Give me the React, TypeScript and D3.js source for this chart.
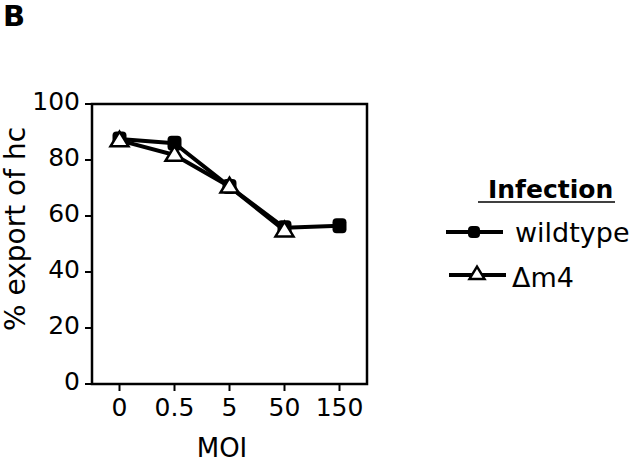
import React from "react";
import * as d3 from "d3";

const categories = ["0", "0.5", "5", "50", "150"];
const wildtype = [87.5, 86, 70.5, 55.8, 56.5];
const dm4 = [87, 81.8, 70.5, 54.8];
const yTicks = [0, 20, 40, 60, 80, 100];

const FONT = "DejaVu Sans";

export default function App() {
  const left = 92, right = 367, top = 104, bottom = 384;
  const x = d3.scalePoint<string>().domain(categories).range([left, right]).padding(0.5);
  const y = d3.scaleLinear().domain([0, 100]).range([bottom, top]);
  const line = d3
    .line<number>()
    .x((_, i) => x(categories[i]) as number);
  line.y((d) => y(d));

  const tri = (cx: number, cy: number, s = 17) => {
    const h = s * 0.82;
    return `M${cx},${cy - h * 0.6} L${cx + s / 2},${cy + h * 0.4} L${cx - s / 2},${cy + h * 0.4} Z`;
  };

  return (
    <svg width={640} height={464} style={{ position: "absolute", left: 0, top: 0, background: "#fff" }}>
      <rect x={0} y={0} width={640} height={464} fill="#fff" />
      <text x={3} y={26} fontFamily={FONT} fontWeight="bold" fontSize={29} fill="#000">B</text>

      {/* frame */}
      <rect x={left} y={top} width={right - left} height={bottom - top} fill="none" stroke="#000" strokeWidth={2.5} />

      {/* y ticks */}
      {yTicks.map((t) => (
        <g key={"y" + t}>
          <line x1={left - 7} x2={left} y1={y(t)} y2={y(t)} stroke="#000" strokeWidth={2} />
          <text x={80} y={y(t) + 6} textAnchor="end" fontFamily={FONT} fontSize={25} fill="#000">{t}</text>
        </g>
      ))}

      {/* x ticks */}
      {categories.map((c) => (
        <g key={"x" + c}>
          <line x1={x(c)} x2={x(c)} y1={bottom} y2={bottom + 7} stroke="#000" strokeWidth={2} />
          <text x={x(c)} y={416} textAnchor="middle" fontFamily={FONT} fontSize={25} fill="#000">{c}</text>
        </g>
      ))}

      <text x={222} y={457} textAnchor="middle" fontFamily={FONT} fontSize={26} fill="#000">MOI</text>
      <text transform="translate(25,229) rotate(-90)" textAnchor="middle" fontFamily={FONT} fontSize={28} fill="#000">% export of hc</text>

      {/* series lines */}
      <path d={line(wildtype) || ""} fill="none" stroke="#000" strokeWidth={4} strokeLinejoin="round" />
      <path d={line(dm4) || ""} fill="none" stroke="#000" strokeWidth={4} strokeLinejoin="round" />
      {wildtype.map((v, i) => (
        <rect key={"w" + i} x={(x(categories[i]) as number) - 7} y={y(v) - 7.5} width={14} height={15} rx={4} fill="#000" />
      ))}
      {dm4.map((v, i) => (
        <path key={"d" + i} d={tri(x(categories[i]) as number, y(v), 18)} fill="#fff" stroke="#000" strokeWidth={2.5} strokeLinejoin="miter" />
      ))}

      {/* legend */}
      <text x={488} y={198} fontFamily={FONT} fontWeight="bold" fontSize={25} fill="#000">Infection</text>
      <line x1={478} x2={615} y1={202} y2={202} stroke="#000" strokeWidth={1.5} />
      <line x1={446} x2={503} y1={232} y2={232} stroke="#000" strokeWidth={4} />
      <rect x={468} y={226} width={12} height={12} rx={4} fill="#000" />
      <text x={515} y={242} fontFamily={FONT} fontSize={27} fill="#000">wildtype</text>
      <line x1={449} x2={506} y1={275} y2={275} stroke="#000" strokeWidth={4} />
      <path d={tri(477, 274, 15)} fill="#fff" stroke="#000" strokeWidth={2.5} />
      <text x={512} y={287} fontFamily={FONT} fontSize={27} fill="#000">Δm4</text>
    </svg>
  );
}
